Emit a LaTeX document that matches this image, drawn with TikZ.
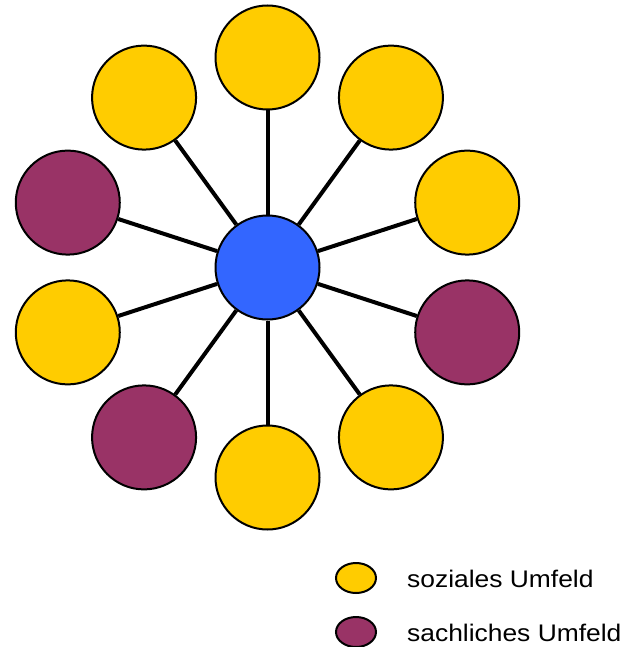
\documentclass[tikz,border=0pt]{standalone}
\usepackage{fontspec}
\setmainfont{Liberation Sans}
\usetikzlibrary{shapes.geometric}
\definecolor{sozial}{HTML}{FFCC00}
\definecolor{sachlich}{HTML}{993366}
\definecolor{mitte}{HTML}{3366FF}
\newcommand{\legendlabel}[1]{\scalebox{1.1}[1]{#1}}
\begin{document}
\begin{tikzpicture}[x=1pt,y=-1pt,
  ring/.style={circle,draw=black,line width=2pt,minimum size=104pt,inner sep=0pt},
  spoke/.style={line width=4pt},
  legendmark/.style={ellipse,draw=black,line width=2pt,minimum width=40pt,minimum height=30pt,inner sep=0pt},
  legendtext/.style={anchor=base west,font=\fontsize{24}{28}\selectfont,inner sep=0pt}]
\useasboundingbox (0,0) rectangle (639,647);
% centre
\node[ring,fill=mitte] (c) at (267.5,267.5) {};
% outer circles, every 36 degrees clockwise from the top
\foreach \i/\col in {0/sozial,1/sozial,2/sozial,3/sachlich,4/sozial,5/sozial,6/sachlich,7/sozial,8/sachlich,9/sozial}{
  \pgfmathsetmacro{\ang}{90-36*\i}
  \node[ring,fill=\col] (o\i) at ({267.5+210*cos(\ang)},{267.5-210*sin(\ang)}) {};
}
% spokes between centre and each outer circle
\foreach \i in {0,...,9}{
  \draw[spoke] (c) -- (o\i);
}
% legend
\node[legendmark,fill=sozial] (l1) at (356,578) {};
\node[legendmark,fill=sachlich] (l2) at (356,632) {};
\node[legendtext] (t1) at (407,587) {\legendlabel{soziales Umfeld}};
\node[legendtext] (t2) at (407,641) {\legendlabel{sachliches Umfeld}};
\end{tikzpicture}
\end{document}
